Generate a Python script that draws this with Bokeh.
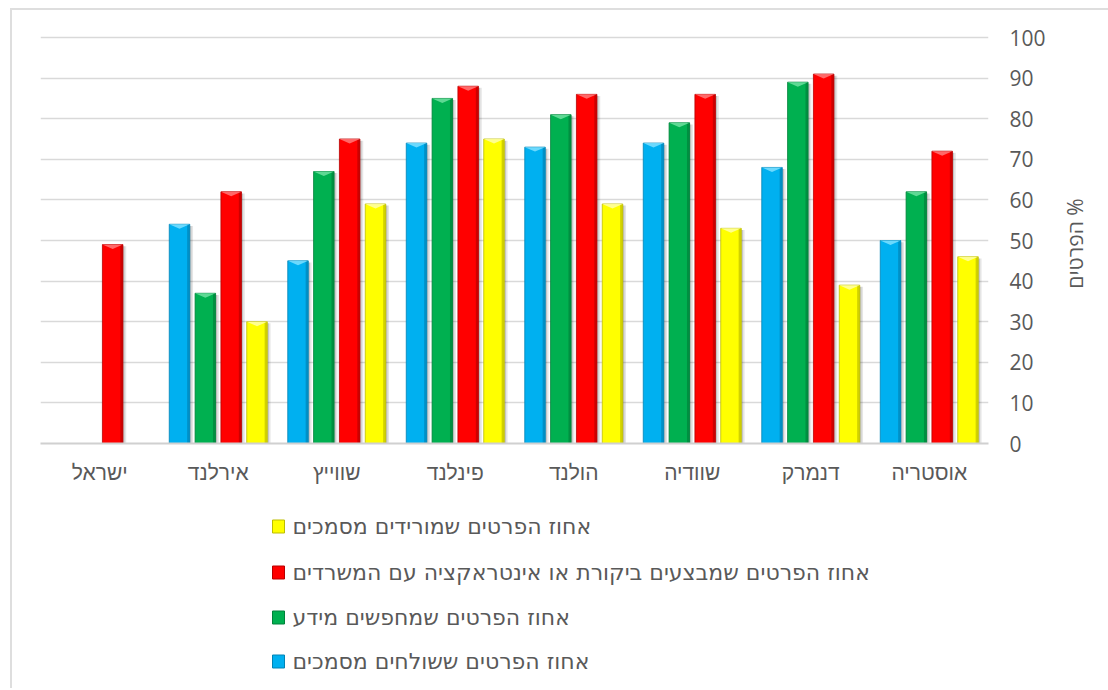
import math
from bokeh.plotting import figure
from bokeh.models import Range1d, FixedTicker, Label, ColumnDataSource
from bokeh.embed import file_html
from bokeh.resources import INLINE

# Countries in category order (the first one is drawn at the right edge)
countries = ["אוסטריה", "דנמרק", "שוודיה", "הולנד", "פינלנד", "שווייץ", "אירלנד", "ישראל"]

# Share of individuals (%) per online activity
send_docs = [50, 68, 74, 73, 74, 45, 54, None]
search_info = [62, 89, 79, 81, 85, 67, 37, None]
review_interact = [72, 91, 86, 86, 88, 75, 62, 49]
download_docs = [46, 39, 53, 59, 75, 59, 30, None]

series_names = [
    "אחוז הפרטים ששולחים מסמכים",
    "אחוז הפרטים שמחפשים מידע",
    "אחוז הפרטים שמבצעים ביקורת או אינטראקציה עם המשרדים",
    "אחוז הפרטים שמורידים מסמכים",
]
series_values = [send_docs, search_info, review_interact, download_docs]

y_ticks = list(range(0, 101, 10))
y_title = "הפרטים %"

# colours: main, dark edge, light bevel
palette = [
    ("#00B0F0", "#0083B5", "#7FE0FF"),
    ("#00B050", "#00813A", "#6EE0A0"),
    ("#FF0000", "#B80000", "#FF7A7A"),
    ("#FFFF00", "#BDBD00", "#FFFFA8"),
]

n = len(countries)
PITCH = 0.218      # distance between neighbouring bars inside a group
WIDTH = 0.173      # bar width (category units)
EDGE = 0.022       # darker right edge
BEVEL = 1.1        # depth of the top bevel (value units)

p = figure(
    frame_width=948, frame_height=408,
    min_border_left=28, min_border_right=120,
    min_border_top=25, min_border_bottom=245,
    x_range=Range1d(0, n), y_range=Range1d(0, 100.5),
    y_axis_location="right",
    output_backend="svg", toolbar_location=None,
    background_fill_color="white", border_fill_color="white",
)
p.outline_line_color = None
# light frame on the top and left of the chart area
p.styles = {
    "margin-left": "10px", "margin-top": "8px",
    "border-left": "2px solid #DEDEDE", "border-top": "2px solid #DEDEDE",
}

for k, (vals, (c_main, c_dark, c_light)) in enumerate(zip(series_values, palette)):
    xs, tops = [], []
    for i, v in enumerate(vals):
        if v is None:
            continue
        xs.append((n - i - 0.5) + (k - 1.5) * PITCH)
        tops.append(v)
    src = ColumnDataSource(dict(
        x=xs, top=tops,
        sh1=[x + 0.014 for x in xs], sh2=[x + 0.028 for x in xs],
        edge_x=[x + WIDTH / 2 - EDGE / 2 for x in xs],
        top_sh=[t - 0.4 for t in tops],
    ))
    # soft drop shadow
    p.vbar(x="sh2", width=WIDTH, top="top_sh", bottom=0, source=src,
           fill_color="#000000", fill_alpha=0.10, line_color=None)
    p.vbar(x="sh1", width=WIDTH, top="top_sh", bottom=0, source=src,
           fill_color="#000000", fill_alpha=0.15, line_color=None)
    p.vbar(x="x", width=WIDTH, top="top", bottom=0, source=src,
           fill_color=c_main, line_color=c_dark, line_width=0.8)
    p.vbar(x="edge_x", width=EDGE, top="top", bottom=0, source=src,
           fill_color=c_dark, fill_alpha=0.7, line_color=None)
    # top bevel
    bx = [[x - WIDTH / 2, x + WIDTH / 2, x] for x in xs]
    by = [[t, t, t - BEVEL] for t in tops]
    p.patches(bx, by, fill_color=c_light, fill_alpha=0.85, line_color=None)

# axes
p.yaxis.ticker = FixedTicker(ticks=y_ticks)
p.yaxis.axis_line_color = None
p.yaxis.major_tick_line_color = None
p.yaxis.minor_tick_line_color = None
p.yaxis.major_label_text_font = "Open Sans"
p.yaxis.major_label_text_font_size = "21px"
p.yaxis.major_label_text_color = "#595959"
p.yaxis.major_label_standoff = 15

# value-axis title, rotated to read bottom-to-top
title = Label(x=1060, y=231, x_units="canvas", y_units="canvas",
              text=y_title, angle=math.pi / 2,
              text_align="center", text_baseline="middle",
              text_font="Open Sans", text_font_size="21px",
              text_color="#595959")
p.add_layout(title, "right")

p.xaxis.ticker = FixedTicker(ticks=[n - i - 0.5 for i in range(n)])
p.xaxis.major_label_overrides = {n - i - 0.5: c for i, c in enumerate(countries)}
p.xaxis.axis_line_color = "#D0D0D0"
p.xaxis.axis_line_width = 2
p.xaxis.major_tick_line_color = None
p.xaxis.minor_tick_line_color = None
p.xaxis.major_label_text_font = "Liberation Sans"
p.xaxis.major_label_text_font_size = "21px"
p.xaxis.major_label_text_color = "#595959"
p.xaxis.major_label_standoff = 11

p.xgrid.grid_line_color = None
p.ygrid.ticker = FixedTicker(ticks=y_ticks)
p.ygrid.grid_line_color = "#D9D9D9"
p.ygrid.grid_line_width = 1.5

# legend under the category axis: one row per series, reverse series order
LEG_MARK_X = 264      # canvas px, centre of the colour key
LEG_TEXT_X = 278      # canvas px, start of the label
LEG_ROW_Y = [514, 560, 605, 649]
for row, k in enumerate((3, 2, 1, 0)):
    c_main, c_dark, _ = palette[k]
    key = Label(x=LEG_MARK_X, y=LEG_ROW_Y[row], x_units="canvas", y_units="canvas",
                text="\u2003", text_font="DejaVu Sans", text_font_size="10px",
                text_align="center", text_baseline="middle",
                background_fill_color=c_main, border_line_color=c_dark,
                border_line_width=1, padding=1)
    p.add_layout(key, "below")
    lab = Label(x=LEG_TEXT_X, y=LEG_ROW_Y[row], x_units="canvas", y_units="canvas",
                text=series_names[k], text_font="DejaVu Sans", text_font_size="22px",
                text_align="left", text_baseline="middle", text_color="#595959")
    p.add_layout(lab, "below")

open("out.html", "w").write(file_html(p, INLINE))
